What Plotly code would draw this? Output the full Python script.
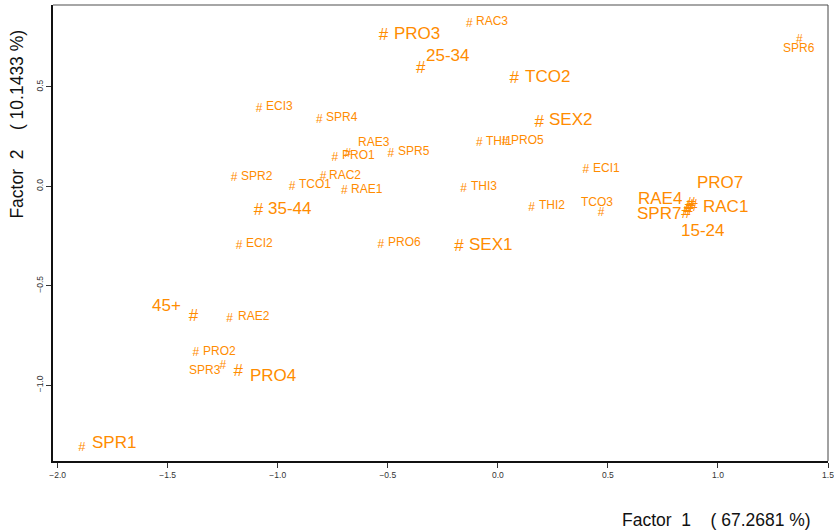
import plotly.graph_objects as go

# ---------------- data ----------------
labels = ["PRO3", "25-34", "RAC3", "TCO2", "SPR6", "ECI3", "SPR4", "SEX2",
          "RAE3", "PRO1", "SPR5", "THI1", "PRO5", "ECI1", "SPR2", "RAC2",
          "TCO1", "RAE1", "THI3", "35-44", "THI2", "TCO3", "PRO7", "RAC1",
          "RAE4", "SPR7", "15-24", "ECI2", "PRO6", "SEX1", "45+", "RAE2",
          "PRO2", "SPR3", "PRO4", "SPR1"]
factor1 = [-0.520, -0.350, -0.129, 0.075, 1.370, -1.085, -0.811, 0.188,
           -0.682, -0.741, -0.486, -0.084, 0.033, 0.400, -1.198, -0.794,
           -0.935, -0.697, -0.156, -1.088, 0.153, 0.469, 0.878, 0.887,
           0.869, 0.855, 0.865, -1.175, -0.532, -0.177, -1.383, -1.219,
           -1.372, -1.249, -1.179, -1.890]
factor2 = [0.756, 0.589, 0.817, 0.539, 0.736, 0.388, 0.334, 0.320,
           0.161, 0.141, 0.161, 0.216, 0.224, 0.082, 0.040, 0.048,
           -0.005, -0.022, -0.014, -0.123, -0.108, -0.133, -0.094, -0.104,
           -0.109, -0.139, -0.124, -0.300, -0.297, -0.304, -0.656, -0.669,
           -0.837, -0.904, -0.933, -1.316]
x_ticks = [-2.0, -1.5, -1.0, -0.5, 0.0, 0.5, 1.0, 1.5]
y_ticks = [-1.0, -0.5, 0.0, 0.5]
x_title = "Factor\u00a0\u00a01\u00a0\u00a0\u00a0\u00a0(\u00a067.2681\u00a0%)"
y_title = "Factor\u00a0\u00a02\u00a0\u00a0\u00a0\u00a0(\u00a010.1433\u00a0%)"

# ---------------- style ----------------
ORANGE = "#FF8C00"
FONT = "Liberation Sans, Arial, Helvetica, sans-serif"
big = {"PRO3", "25-34", "TCO2", "SEX2", "35-44", "SEX1", "PRO7", "RAC1",
       "RAE4", "SPR7", "15-24", "45+", "PRO4", "SPR1"}
hash_size_override = {"SPR1": 13}
# label placement: (xanchor, dx px right, dy px down) relative to the point
placement = {
    "PRO3": ("left", 11, -3), "25-34": ("left", 5, -14), "RAC3": ("left", 7, -3),
    "TCO2": ("left", 11, -3), "SPR6": ("center", 0, 8), "ECI3": ("left", 7, -3),
    "SPR4": ("left", 7, -3), "SEX2": ("left", 10, -3), "RAE3": ("left", 10, -12),
    "PRO1": ("left", 7, -3), "SPR5": ("left", 7, -3), "THI1": ("left", 7, -2),
    "PRO5": ("left", 6, -2), "ECI1": ("left", 7, -2), "SPR2": ("left", 7, -2),
    "RAC2": ("left", 6, -2), "TCO1": ("left", 7, -3), "RAE1": ("left", 7, -2),
    "THI3": ("left", 7, -3), "35-44": ("left", 10, -2), "THI2": ("left", 7, -3),
    "TCO3": ("center", -4, -11), "PRO7": ("left", 6, -22), "RAC1": ("left", 10, 0),
    "RAE4": ("right", -7, -9), "SPR7": ("right", -5, 0), "15-24": ("center", 14, 20),
    "ECI2": ("left", 7, -3), "PRO6": ("left", 7, -3), "SEX1": ("left", 10, -2),
    "45+": ("right", -12, -11), "RAE2": ("left", 8, -3), "PRO2": ("left", 7, -2),
    "SPR3": ("right", -2, 4), "PRO4": ("left", 12, 4), "SPR1": ("left", 10, -5),
}

label_sizes = [17 if l in big else 12 for l in labels]
hash_sizes = [hash_size_override.get(l, 17 if l in big else 12) for l in labels]

fig = go.Figure()
fig.add_trace(go.Scatter(
    x=factor1, y=factor2, mode="text", text=["#"] * len(labels),
    textposition="middle center",
    textfont=dict(family=FONT, size=hash_sizes, color=ORANGE),
    hoverinfo="skip", showlegend=False, cliponaxis=False,
))

annotations = []
for lab, xv, yv, fs in zip(labels, factor1, factor2, label_sizes):
    anchor, dx, dy = placement[lab]
    annotations.append(dict(
        x=xv, y=yv, xref="x", yref="y", text=lab, showarrow=False,
        xanchor=anchor, yanchor="middle", xshift=dx, yshift=-dy,
        borderpad=0, borderwidth=0,
        font=dict(family=FONT, size=fs, color=ORANGE),
    ))

annotations.append(dict(
    x=0.8557, y=-0.129, xref="paper", yref="paper", text=x_title,
    showarrow=False, xanchor="center", yanchor="middle",
    font=dict(family=FONT, size=17.5, color="#111"),
))
annotations.append(dict(
    x=-0.047, y=0.739, xref="paper", yref="paper", text=y_title,
    showarrow=False, xanchor="center", yanchor="middle", textangle=-90,
    font=dict(family=FONT, size=17.5, color="#111"),
))

axis_common = dict(
    showgrid=False, zeroline=False, showline=True, linecolor="#111",
    linewidth=2, ticks="outside", ticklen=5, tickwidth=1.3, tickcolor="#333",
    tickfont=dict(family=FONT, size=8.5, color="#333"), mirror=False,
    tickformat=".1f", fixedrange=True, ticklabeloverflow="allow",
    automargin=False,
)

fig.update_layout(
    width=834, height=532,
    margin=dict(l=53, r=6, t=5, b=71),
    paper_bgcolor="white", plot_bgcolor="white",
    xaxis=dict(range=[-2.021, 1.5], tickvals=x_ticks, **axis_common),
    yaxis=dict(range=[-1.382, 0.912], tickvals=y_ticks, tickangle=-90,
               **axis_common),
    annotations=annotations,
    shapes=[
        dict(type="line", xref="paper", yref="paper", x0=0, x1=1, y0=1, y1=1,
             line=dict(color="#888", width=1.5)),
        dict(type="line", xref="paper", yref="paper", x0=1, x1=1, y0=0, y1=1,
             line=dict(color="#444", width=1)),
    ],
    showlegend=False,
)

fig.write_html(
    "out.html",
    config={"displayModeBar": False},
    post_script="document.body.style.margin='0';document.body.style.overflow='hidden';",
)
